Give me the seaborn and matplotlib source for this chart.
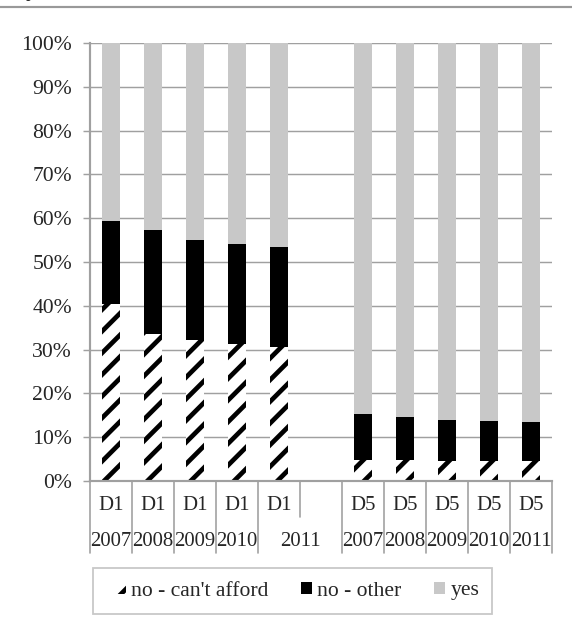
import matplotlib
matplotlib.use('Agg')
import matplotlib.pyplot as plt
import matplotlib.transforms as mtransforms
from matplotlib.patches import Patch, Rectangle
from matplotlib.lines import Line2D
import seaborn as sns
import pandas as pd
import numpy as np

# datos (porcentajes)
groups = ['D1', 'D1', 'D1', 'D1', 'D1', '', 'D5', 'D5', 'D5', 'D5', 'D5']
years = ['2007', '2008', '2009', '2010', '2011', '', '2007', '2008', '2009', '2010', '2011']
cant_afford = [40.3, 33.6, 32.2, 31.3, 30.6, np.nan, 4.8, 4.8, 4.6, 4.6, 4.5]
no_other = [19.0, 23.6, 22.9, 22.9, 22.9, np.nan, 10.5, 9.7, 9.4, 9.2, 8.9]
yes = [40.7, 42.8, 44.9, 45.8, 46.5, np.nan, 84.7, 85.5, 86.0, 86.2, 86.6]
series_names = ["no - can't afford", 'no - other', 'yes']
y_ticks = [0, 10, 20, 30, 40, 50, 60, 70, 80, 90, 100]

GRID = '#a0a0a0'
YES_C = '#c8c8c8'
FS = 12
FS_X = 11.5

sns.set_style('white')
plt.rcParams['font.family'] = ['Liberation Serif', 'DejaVu Serif']
plt.rcParams['hatch.linewidth'] = 2.6

slots = [f'{g} {y}' if g else 'gap' for g, y in zip(groups, years)]
df = pd.DataFrame({'slot': slots, 'cant': cant_afford, 'other': no_other, 'yes': yes})
df['top1'] = df['cant']
df['top2'] = df['cant'] + df['other']
df['top3'] = df['top2'] + df['yes']

fig = plt.figure(figsize=(572 / 130, 628 / 130), dpi=130)
ax = fig.add_axes([90 / 572, 147 / 628, 462 / 572, 438 / 628])

# barras apiladas: de la mas alta a la mas baja
sns.barplot(data=df, x='slot', y='top3', order=slots, color=YES_C, saturation=1,
            width=0.41, errorbar=None, linewidth=0, ax=ax)
sns.barplot(data=df, x='slot', y='top2', order=slots, color='black', saturation=1,
            width=0.41, errorbar=None, linewidth=0, ax=ax)
sns.barplot(data=df, x='slot', y='top1', order=slots, color='white', saturation=1,
            width=0.41, errorbar=None, linewidth=0, ax=ax)
for p in ax.containers[-1]:
    p.set_hatch('//')
    p.set_edgecolor('black')
    p.set_linewidth(0)

ax.set_xlim(-0.5, len(slots) - 0.5)
ax.set_ylim(0, 100)
ax.set_yticks(y_ticks)
ax.set_yticklabels([f'{t}%' for t in y_ticks], fontsize=FS)
ax.set_xticks([])
ax.set_xlabel('')
ax.set_ylabel('')
ax.grid(axis='y', color=GRID, linewidth=0.8)
ax.set_axisbelow(True)
ax.tick_params(axis='y', direction='out', length=4, width=0.8, color=GRID, pad=6, left=True)
for s in ['top', 'right']:
    ax.spines[s].set_visible(False)
for s in ['left', 'bottom']:
    ax.spines[s].set_color(GRID)
    ax.spines[s].set_linewidth(1.2)

# eje de categorias con dos niveles
trans = mtransforms.blended_transform_factory(ax.transData, ax.transAxes)
for i in range(len(slots)):
    if groups[i]:
        ax.text(i, -0.055, groups[i], transform=trans, ha='center', va='center', fontsize=FS_X)
    if years[i]:
        xc = i + 0.5 if (i + 1 < len(slots) and not years[i + 1] and not groups[i + 1]) else i
        ax.text(xc, -0.139, years[i], transform=trans, ha='center', va='center', fontsize=FS_X)
for b in range(len(slots) + 1):
    xb = b - 0.5
    short = 0 < b < len(slots) and not groups[b]
    y_end = -0.082 if short else -0.164
    ax.add_line(Line2D([xb, xb], [0, y_end], transform=trans, color=GRID,
                       linewidth=0.9, clip_on=False))

# leyenda (el recuadro se dibuja aparte, es mas ancho que el contenido)
handles = [Patch(facecolor='white', edgecolor='black', hatch='//', linewidth=0),
           Patch(facecolor='black', linewidth=0),
           Patch(facecolor=YES_C, linewidth=0)]
fig.legend(handles, series_names, loc='center', bbox_to_anchor=(297 / 572, 1 - 591 / 628),
           ncol=3, fontsize=FS, frameon=False,
           handlelength=0.5, handleheight=0.5, handletextpad=0.25, columnspacing=1.5)
fig.add_artist(Rectangle((93 / 572, 1 - 614 / 628), 399 / 572, 46 / 628, transform=fig.transFigure,
                         fill=False, edgecolor='#c8c8c8', linewidth=1.0))

# linea superior y fragmento del titulo
fig.add_artist(Line2D([0, 1], [1 - 7 / 628, 1 - 7 / 628], color='#999999', linewidth=1.2))
fig.text(26 / 572, 1 + 4 / 628, 'y', fontsize=13, fontweight='bold', va='baseline', ha='left')

fig.savefig('out.png', dpi=130)
